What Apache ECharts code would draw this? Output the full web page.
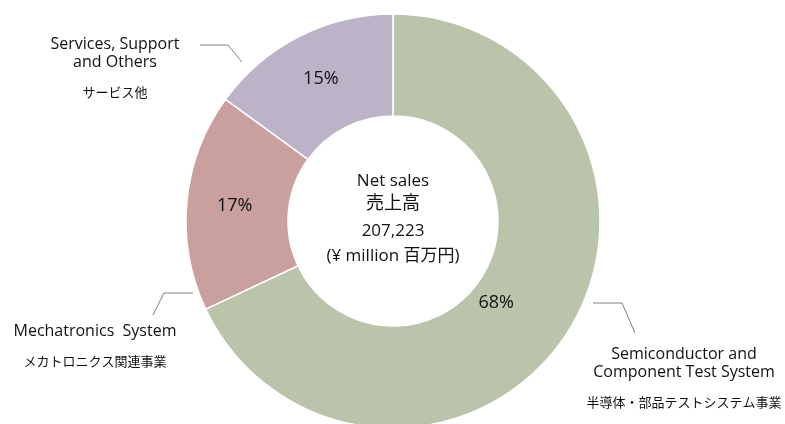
<!DOCTYPE html>
<html>
<head>
<meta charset="utf-8">
<style>
  html, body { margin: 0; padding: 0; background: #fff; }
  #chart { width: 785px; height: 424px; }
</style>
<script src="https://cdn.jsdelivr.net/npm/echarts@6/dist/echarts.min.js"></script>
</head>
<body>
<div id="chart"></div>
<script>
// セグメント別売上構成
const segNamesEn = ['Semiconductor and\nComponent Test System', 'Mechatronics  System', 'Services, Support\nand Others'];
const segNamesJa = ['半導体・部品テストシステム事業', 'メカトロニクス関連事業', 'サービス他'];
const segShares = [68, 17, 15];
const segColors = ['#b9c4aa', '#c9a09e', '#bdb3c8'];
const centerLines = ['Net sales', '売上高', '207,223', '(¥ million 百万円)'];

const font = '"Open Sans", "Noto Sans CJK JP", sans-serif';
const cx = 393, cy = 221;
const txtColor = '#111';

// 外側ラベルの位置とガイド線（手で合わせた）
const outerLabelPos = [
  { x: 684, y: 345, line: [[593, 303], [622, 303], [635, 333]] },
  { x: 95, y: 322, line: [[193, 293], [164, 293], [153, 315]] },
  { x: 115, y: 35, line: [[200, 45], [228, 45], [242, 62]] }
];
const centerY = [181, 204, 231, 256];
const centerSize = [17, 18, 17, 17];

let myChart = echarts.init(document.getElementById('chart'));

let pieData = segShares.map((v, i) => ({
  name: segNamesJa[i],
  value: v,
  itemStyle: { color: segColors[i] }
}));

let option = {
  animation: false,
  textStyle: { fontFamily: font },
  graphic: centerLines.map((t, i) => ({
    type: 'text',
    x: cx,
    y: centerY[i],
    silent: true,
    style: {
      text: t,
      font: centerSize[i] + 'px ' + font,
      fill: txtColor,
      textAlign: 'center',
      textVerticalAlign: 'middle'
    }
  })),
  series: [
    {
      type: 'pie',
      center: [cx, cy],
      radius: [105, 207],
      startAngle: 90,
      clockwise: true,
      avoidLabelOverlap: false,
      silent: true,
      itemStyle: { borderColor: '#fff', borderWidth: 1.5 },
      label: {
        show: true,
        position: 'inside',
        formatter: '{c}%',
        fontSize: 18,
        fontFamily: font,
        color: txtColor
      },
      labelLayout: (p) => p.dataIndex === 0 ? { dx: -31, dy: -3 } : {},
      data: pieData
    },
    {
      // 外側ラベル用の透明な重ね
      type: 'pie',
      center: [cx, cy],
      radius: [105, 207],
      startAngle: 90,
      clockwise: true,
      avoidLabelOverlap: false,
      silent: true,
      itemStyle: { color: 'rgba(0,0,0,0)' },
      label: {
        show: true,
        position: 'outside',
        formatter: (p) => '{a|' + segNamesEn[p.dataIndex].split('\n').join('}\n{a|') + '}\n{b|' + segNamesJa[p.dataIndex] + '}',
        rich: {
          a: { fontSize: 16, lineHeight: 18, color: txtColor, fontFamily: font, align: 'center' },
          b: { fontSize: 13, lineHeight: 44, color: txtColor, fontFamily: font, align: 'center' }
        }
      },
      labelLine: { show: true, lineStyle: { color: '#808080', width: 1 } },
      labelLayout: (p) => {
        let o = outerLabelPos[p.dataIndex];
        return { x: o.x, y: o.y, align: 'center', verticalAlign: 'top', labelLinePoints: o.line };
      },
      data: segShares.map((v, i) => ({ name: segNamesJa[i], value: v }))
    }
  ]
};

myChart.setOption(option);
window.addEventListener('resize', function () {
  myChart.resize();
});
</script>
</body>
</html>
